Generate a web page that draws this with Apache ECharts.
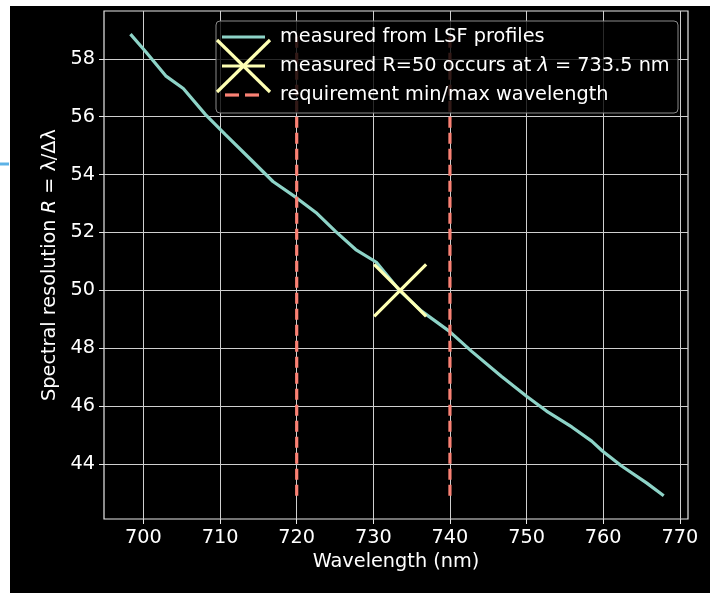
<!DOCTYPE html>
<html>
<head>
<meta charset="utf-8">
<script src="https://cdn.jsdelivr.net/npm/echarts@6/dist/echarts.min.js"></script>
<style>html,body{margin:0;padding:0;background:#fff;}#c{width:710px;height:593px;}</style>
</head>
<body>
<div id="c"></div>
<script>
// ---- data ----
const wavelength = [698.3, 700.3, 702.9, 705.2, 708.1, 710.7, 714.0, 716.9, 719.9, 722.5, 725.1, 727.7, 730.4, 733.4, 736.3, 739.9, 742.8, 746.7, 750.0, 752.6, 755.9, 758.5, 759.9, 762.4, 765.7, 767.9];
const resolution = [58.85, 58.24, 57.41, 56.97, 56.07, 55.38, 54.52, 53.76, 53.21, 52.69, 52.03, 51.41, 50.97, 50.0, 49.28, 48.59, 47.90, 47.03, 46.34, 45.83, 45.28, 44.79, 44.45, 43.93, 43.34, 42.90];
const markerWl = [733.5];
const markerR = [50];
const reqWl = [720, 740];
const reqRange = [42.9, 58.85];
const xTicks = [700, 710, 720, 730, 740, 750, 760, 770];
const yTicks = [44, 46, 48, 50, 52, 54, 56, 58];
const legendLabels = ['measured from LSF profiles', 'measured R=50 occurs at {it|λ} = 733.5 nm', 'requirement min/max wavelength'];

const FONT = 'DejaVu Sans';
const FS = 19.3;
const TEAL = '#8dd3c7', YELLOW = '#feffb3', RED = '#fa8174';

const chart = echarts.init(document.getElementById('c'), null, {renderer: 'canvas'});

const series = [
  {
    type: 'line', name: legendLabels[0],
    data: wavelength.map((w, i) => [w, resolution[i]]),
    symbol: 'none', lineStyle: {color: TEAL, width: 3.2}, z: 3, silent: true
  }
];
reqWl.forEach(w => {
  series.push({
    type: 'line', name: legendLabels[2],
    data: reqRange.map(r => [w, r]),
    symbol: 'none', lineStyle: {color: RED, width: 3.2, type: [11, 5]}, z: 4, silent: true
  });
});
series.push({
  type: 'scatter', name: legendLabels[1],
  data: markerWl.map((w, i) => [w, markerR[i]]),
  symbol: 'path://M0,0L10,10M10,0L0,10', symbolSize: 52,
  itemStyle: {color: 'rgba(0,0,0,0)', borderColor: YELLOW, borderWidth: 3.2, opacity: 1},
  z: 5, silent: true
});

const LX = 216, LY = 21, LW = 462, LH = 92;
const rows = [37, 66, 95];
const graphic = [
  {type: 'rect', shape: {x: 0, y: 0, width: 710, height: 6}, style: {fill: '#fff'}, z: 200},
  {type: 'rect', shape: {x: 0, y: 0, width: 10, height: 593}, style: {fill: '#fff'}, z: 200},
  {type: 'line', shape: {x1: 0, y1: 164, x2: 9, y2: 164}, style: {stroke: '#5db2e6', lineWidth: 3}, z: 201},
  {type: 'rect', shape: {x: LX, y: LY, width: LW, height: LH, r: 4}, style: {fill: 'rgba(0,0,0,0.8)', stroke: '#8a8a8a', lineWidth: 1}, z: 100},
  {type: 'line', shape: {x1: 222, y1: rows[0], x2: 265, y2: rows[0]}, style: {stroke: TEAL, lineWidth: 3.2}, z: 101},
  {type: 'line', shape: {x1: 222, y1: rows[1], x2: 265, y2: rows[1]}, style: {stroke: YELLOW, lineWidth: 3}, z: 101},
  {type: 'line', shape: {x1: 217, y1: 40, x2: 270, y2: 92}, style: {stroke: YELLOW, lineWidth: 3.2}, z: 101},
  {type: 'line', shape: {x1: 270, y1: 40, x2: 217, y2: 92}, style: {stroke: YELLOW, lineWidth: 3.2}, z: 101},
  {type: 'line', shape: {x1: 225, y1: rows[2], x2: 239, y2: rows[2]}, style: {stroke: RED, lineWidth: 3.2}, z: 101},
  {type: 'line', shape: {x1: 245, y1: rows[2], x2: 259, y2: rows[2]}, style: {stroke: RED, lineWidth: 3.2}, z: 101}
];
legendLabels.forEach((t, i) => {
  graphic.push({
    type: 'text', x: 280, y: rows[i], z: 102,
    style: {
      text: t, fill: '#fff', font: FS + 'px "' + FONT + '"', fontFamily: FONT, fontSize: FS,
      verticalAlign: 'middle', textVerticalAlign: 'middle',
      rich: {it: {fontStyle: 'italic', fontFamily: FONT, fontSize: FS, fill: '#fff'}}
    }
  });
});

chart.setOption({
  backgroundColor: '#000',
  animation: false,
  textStyle: {fontFamily: FONT},
  grid: {left: 104, right: 22, top: 11, bottom: 74, show: true, borderColor: '#e8e8e8', borderWidth: 1.2, backgroundColor: 'transparent'},
  xAxis: {
    type: 'value', min: 694.85, max: 771.07,
    name: 'Wavelength (nm)', nameLocation: 'middle', nameGap: 33,
    nameTextStyle: {color: '#fff', fontSize: FS, fontFamily: FONT},
    axisLine: {show: false},
    axisTick: {show: true, customValues: xTicks, length: 5, lineStyle: {color: '#e8e8e8', width: 1}},
    axisLabel: {customValues: xTicks, color: '#fff', fontSize: FS, fontFamily: FONT, margin: 9},
    splitLine: {show: true, lineStyle: {color: '#cfcfcf', width: 1}}
  },
  yAxis: {
    type: 'value', min: 42.1, max: 59.65,
    name: 'Spectral resolution {it|R} = λ/Δλ', nameLocation: 'middle', nameGap: 42, nameRotate: 90,
    nameTextStyle: {color: '#fff', fontSize: FS, fontFamily: FONT,
      rich: {it: {fontStyle: 'italic', color: '#fff', fontSize: FS, fontFamily: FONT}}},
    axisLine: {show: false},
    axisTick: {show: true, customValues: yTicks, length: 5, lineStyle: {color: '#e8e8e8', width: 1}},
    axisLabel: {customValues: yTicks, color: '#fff', fontSize: FS, fontFamily: FONT, margin: 9},
    splitLine: {show: true, lineStyle: {color: '#cfcfcf', width: 1}}
  },
  series: series,
  graphic: graphic
});
</script>
</body>
</html>
